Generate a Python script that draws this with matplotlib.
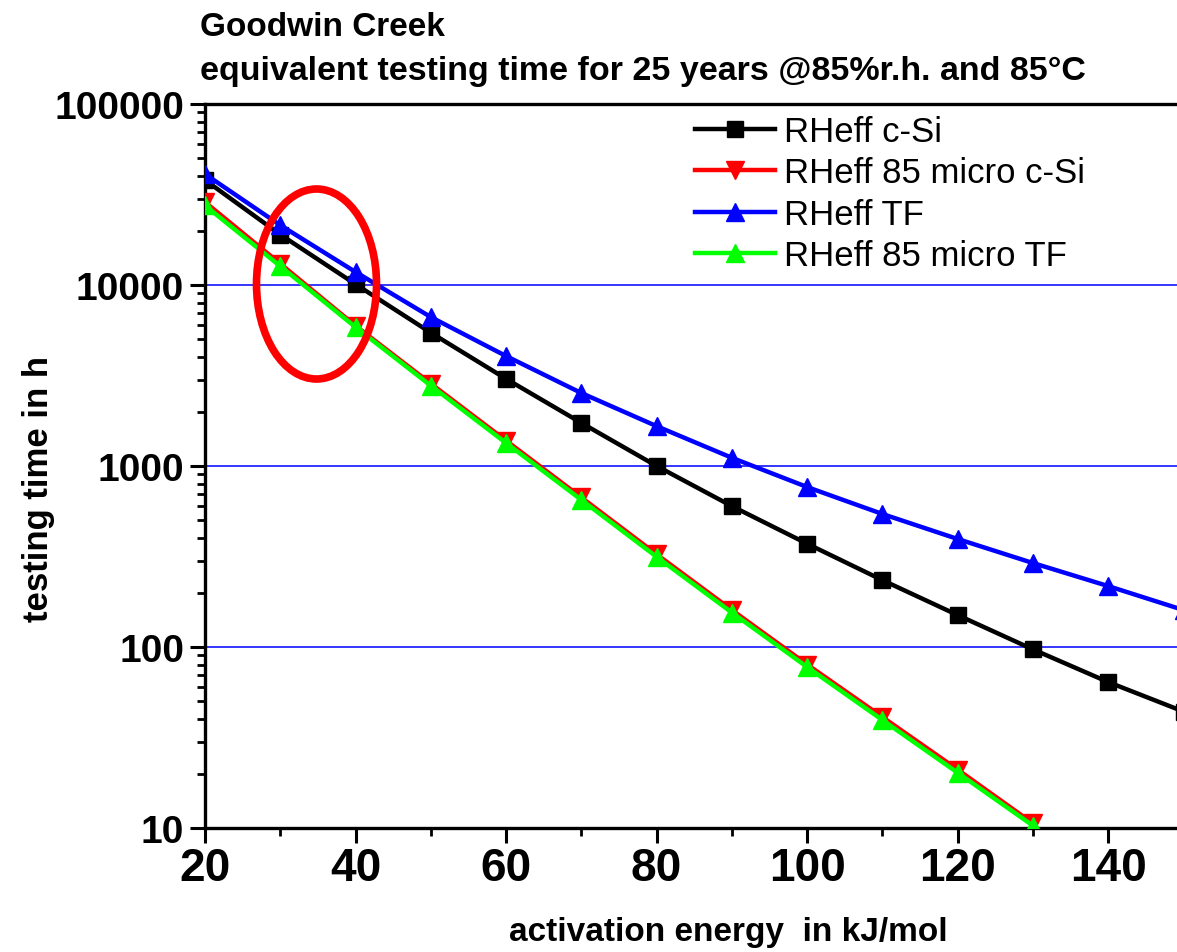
import matplotlib
matplotlib.use('Agg')
import matplotlib.pyplot as plt
from matplotlib.patches import Ellipse
from matplotlib.ticker import LogLocator, FixedLocator, NullFormatter

plt.rcParams['font.family'] = ['Liberation Sans', 'DejaVu Sans']

# activation energy in kJ/mol
energy = [20, 30, 40, 50, 60, 70, 80, 90, 100, 110, 120, 130, 140, 150]
energy_micro = [20, 30, 40, 50, 60, 70, 80, 90, 100, 110, 120, 130]

# testing time in h
rheff_csi = [38000, 19000, 10100, 5450, 3030, 1730, 1000, 600, 372, 234, 150, 97, 64, 44]
rheff_tf = [41000, 21400, 11800, 6650, 4050, 2530, 1660, 1110, 765, 543, 395, 291, 217, 160]
rheff_micro_csi = [28700, 13100, 5950, 2850, 1380, 670, 325, 160, 80, 41, 21, 10.6]
rheff_micro_tf = [27500, 12700, 5850, 2780, 1340, 650, 315, 155, 77.5, 39.5, 20.2, 10.3]

fig = plt.figure(figsize=(11.77, 9.53), dpi=100)
ax = fig.add_axes([205 / 1177, 1 - 829 / 953, (1183.5 - 205) / 1177, (829 - 105) / 953])

ax.plot(energy, rheff_csi, color='black', lw=3.2, marker='s', ms=11.5, label='RHeff c-Si', zorder=4)
ax.plot(energy_micro, rheff_micro_csi, color='red', lw=3.2, marker='v', ms=13.5, label='RHeff 85 micro c-Si', zorder=3)
ax.plot(energy, rheff_tf, color='blue', lw=3.2, marker='^', ms=13.5, label='RHeff TF', zorder=5)
ax.plot(energy_micro, rheff_micro_tf, color='#00ff00', lw=3.2, marker='^', ms=13.5, label='RHeff 85 micro TF', zorder=4)

ax.set_yscale('log')
ax.set_xlim(20, 150)
ax.set_ylim(10, 100000)
ax.xaxis.set_major_locator(FixedLocator([20, 40, 60, 80, 100, 120, 140]))
ax.xaxis.set_minor_locator(FixedLocator([30, 50, 70, 90, 110, 130]))
ax.yaxis.set_minor_locator(LogLocator(base=10, subs=range(2, 10), numticks=20))
ax.yaxis.set_minor_formatter(NullFormatter())
ax.set_yticks([10, 100, 1000, 10000, 100000])
ax.set_yticklabels(['10', '100', '1000', '10000', '100000'])

ax.yaxis.grid(True, which='major', color='blue', lw=1.1)
ax.set_axisbelow(True)

for sp in ax.spines.values():
    sp.set_linewidth(2.4)
ax.tick_params(which='major', length=11, width=2.2, direction='out')
ax.tick_params(which='minor', length=6, width=2.0, direction='out')
ax.tick_params(axis='y', labelsize=28, pad=4)
ax.tick_params(axis='x', labelsize=33, pad=2)
for lbl in ax.get_xticklabels() + ax.get_yticklabels():
    lbl.set_fontweight('bold')

ax.set_xlabel('activation energy  in kJ/mol', fontsize=24, fontweight='bold')
ax.xaxis.set_label_coords(0.535, -0.121)
ax.set_ylabel('testing time in h', fontsize=25, fontweight='bold')
ax.yaxis.set_label_coords(-0.153, 0.47)

fig.text(200 / 1177, 1 - 36 / 953, 'Goodwin Creek', fontsize=24, fontweight='bold', ha='left', va='baseline')
fig.text(200 / 1177, 1 - 80 / 953, 'equivalent testing time for 25 years @85%r.h. and 85°C',
         fontsize=24.5, fontweight='bold', ha='left', va='baseline')

# highlight ring around the 30-40 kJ/mol region
ell = Ellipse((316.5 / 1177, 1 - 285 / 953), 120 / 1177, 190 / 953, transform=fig.transFigure,
              fill=False, edgecolor='red', lw=5.5, zorder=6)
fig.add_artist(ell)

leg = ax.legend(loc='upper left', bbox_to_anchor=((676 - 205) / (1183.5 - 205), 1.011), frameon=False,
                fontsize=25, handlelength=2.3, handletextpad=0.25, labelspacing=0.24,
                borderaxespad=0.15)

plt.savefig('out.png', dpi=100)
plt.close()
